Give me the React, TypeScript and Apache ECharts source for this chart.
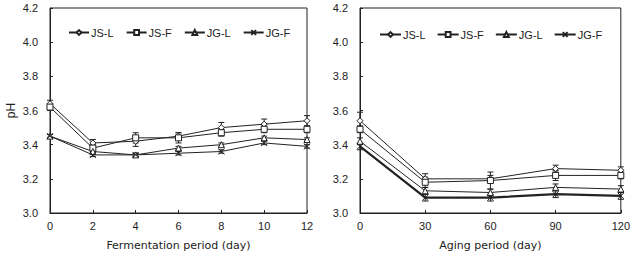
import React, { useEffect, useRef } from "react";
import * as echarts from "echarts";

const seriesNames = ["JS-L", "JS-F", "JG-L", "JG-F"];

const fermDays = [0, 2, 4, 6, 8, 10, 12];
const fJSL = [3.64, 3.41, 3.42, 3.45, 3.5, 3.52, 3.54];
const fJSF = [3.62, 3.38, 3.44, 3.44, 3.47, 3.49, 3.49];
const fJGL = [3.45, 3.36, 3.34, 3.38, 3.4, 3.44, 3.43];
const fJGF = [3.45, 3.34, 3.34, 3.35, 3.36, 3.41, 3.39];
const fJSLerr = [0.02, 0.02, 0.03, 0.02, 0.03, 0.03, 0.03];
const fJSFerr = [0.02, 0.02, 0.03, 0.03, 0.02, 0.02, 0.02];
const fJGLerr = [0.01, 0.01, 0.01, 0.01, 0.01, 0.01, 0.01];
const fJGFerr = [0.01, 0.01, 0.01, 0.01, 0.01, 0.01, 0.01];

const ageDays = [0, 30, 60, 90, 120];
const aJSL = [3.54, 3.2, 3.2, 3.26, 3.25];
const aJSF = [3.49, 3.18, 3.19, 3.22, 3.22];
const aJGL = [3.42, 3.13, 3.12, 3.15, 3.14];
const aJGF = [3.39, 3.09, 3.09, 3.11, 3.1];
const aJSLerr = [0.05, 0.03, 0.02, 0.02, 0.02];
const aJSFerr = [0.02, 0.03, 0.05, 0.03, 0.02];
const aJGLerr = [0.02, 0.02, 0.02, 0.02, 0.02];
const aJGFerr = [0.02, 0.02, 0.02, 0.02, 0.02];

const yTicks = { min: 3.0, max: 4.2, interval: 0.2 };

const INK = "#222";
const symbols = [
  "diamond",
  "rect",
  "triangle",
  "path://M0,0L10,10M10,0L0,10",
];

function lineSeries(name: string, idx: number, xs: number[], ys: number[], symIdx: number, width: number) {
  return {
    type: "line",
    name,
    xAxisIndex: idx,
    yAxisIndex: idx,
    data: xs.map((x, i) => [x, ys[i]]),
    symbol: symbols[symIdx],
    symbolSize: 6,
    showSymbol: true,
    lineStyle: { color: INK, width },
    itemStyle: { color: "#fff", borderColor: INK, borderWidth: 1 },
    z: 3,
  };
}

function errSeries(idx: number, xs: number[], ys: number[], es: number[]) {
  return {
    type: "custom",
    name: "err",
    xAxisIndex: idx,
    yAxisIndex: idx,
    silent: true,
    z: 2,
    data: xs.map((x, i) => [x, ys[i] - es[i], ys[i] + es[i]]),
    renderItem: (_p: any, api: any) => {
      const lo = api.coord([api.value(0), api.value(1)]);
      const hi = api.coord([api.value(0), api.value(2)]);
      const w = 3;
      const st = { stroke: INK, lineWidth: 1 };
      return {
        type: "group",
        children: [
          { type: "line", shape: { x1: lo[0], y1: lo[1], x2: hi[0], y2: hi[1] }, style: st },
          { type: "line", shape: { x1: hi[0] - w, y1: hi[1], x2: hi[0] + w, y2: hi[1] }, style: st },
          { type: "line", shape: { x1: lo[0] - w, y1: lo[1], x2: lo[0] + w, y2: lo[1] }, style: st },
        ],
      };
    },
  };
}

const font = "Liberation Sans, Arial, sans-serif";
const titleFont = "DejaVu Sans, sans-serif";

function xAxis(idx: number, max: number, interval: number, name: string) {
  return {
    type: "value",
    gridIndex: idx,
    min: 0,
    max,
    interval,
    name,
    nameLocation: "middle",
    nameGap: 27,
    nameTextStyle: { fontFamily: titleFont, fontSize: 11, color: INK },
    axisLine: { lineStyle: { color: INK, width: 1 } },
    axisTick: { inside: true, length: 3, lineStyle: { color: INK } },
    axisLabel: { fontFamily: font, fontSize: 11, color: INK, margin: 7 },
    splitLine: { show: false },
  };
}

function yAxis(idx: number, name: string) {
  return {
    type: "value",
    gridIndex: idx,
    min: yTicks.min,
    max: yTicks.max,
    interval: yTicks.interval,
    name,
    nameLocation: "middle",
    nameRotate: 90,
    nameGap: 33,
    nameTextStyle: { fontFamily: font, fontSize: 12, color: INK },
    axisLine: { lineStyle: { color: INK, width: 1 } },
    axisTick: { inside: true, length: 3, lineStyle: { color: INK } },
    axisLabel: {
      fontFamily: font,
      fontSize: 11,
      color: INK,
      margin: 12,
      formatter: (v: number) => v.toFixed(1),
    },
    splitLine: { show: false },
  };
}

function legend(left: number, top: number, iw: number, gap: number) {
  return {
    data: seriesNames,
    left,
    top,
    padding: 0,
    itemWidth: iw,
    itemHeight: 6,
    itemGap: gap,
    textStyle: { fontFamily: font, fontSize: 11, color: INK, padding: [0, 0, 0, -3] },
    selectedMode: false,
  };
}

export default function App() {
  const ref = useRef<HTMLDivElement>(null);
  useEffect(() => {
    if (!ref.current) return;
    const chart = echarts.init(ref.current, undefined, { renderer: "svg" });
    const option: any = {
      animation: false,
      backgroundColor: "#fff",
      grid: [
        { left: 50, top: 8, width: 257, height: 207, show: true, borderColor: INK, borderWidth: 1, backgroundColor: "transparent" },
        { left: 360, top: 8, width: 265, height: 206, show: true, borderColor: INK, borderWidth: 1, backgroundColor: "transparent" },
      ],
      legend: [legend(68, 27, 20, 12), legend(379, 29, 21, 11)],
      xAxis: [xAxis(0, 12, 2, "Fermentation period (day)"), xAxis(1, 120, 30, "Aging period (day)")],
      yAxis: [yAxis(0, "pH"), yAxis(1, "")],
      series: [
        errSeries(0, fermDays, fJSL, fJSLerr),
        errSeries(0, fermDays, fJSF, fJSFerr),
        errSeries(0, fermDays, fJGL, fJGLerr),
        errSeries(0, fermDays, fJGF, fJGFerr),
        errSeries(1, ageDays, aJSL, aJSLerr),
        errSeries(1, ageDays, aJSF, aJSFerr),
        errSeries(1, ageDays, aJGL, aJGLerr),
        errSeries(1, ageDays, aJGF, aJGFerr),
        lineSeries("JS-L", 0, fermDays, fJSL, 0, 1),
        lineSeries("JS-F", 0, fermDays, fJSF, 1, 1),
        lineSeries("JG-L", 0, fermDays, fJGL, 2, 1),
        lineSeries("JG-F", 0, fermDays, fJGF, 3, 1),
        lineSeries("JS-L", 1, ageDays, aJSL, 0, 1),
        lineSeries("JS-F", 1, ageDays, aJSF, 1, 1),
        lineSeries("JG-L", 1, ageDays, aJGL, 2, 1),
        lineSeries("JG-F", 1, ageDays, aJGF, 3, 2.2),
      ],
    };
    chart.setOption(option);
    return () => chart.dispose();
  }, []);
  return (
    <div
      ref={ref}
      style={{ position: "fixed", left: 0, top: 0, width: 633, height: 256, background: "#fff" }}
    />
  );
}
